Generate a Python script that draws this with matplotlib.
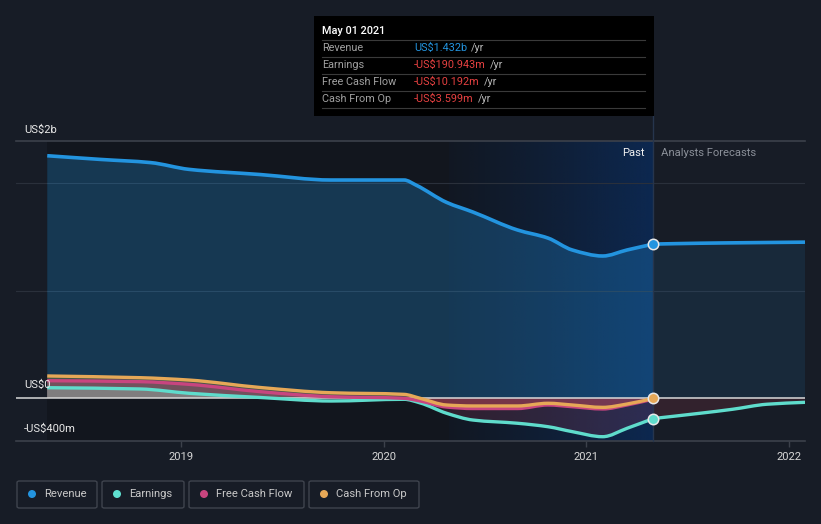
import numpy as np
import matplotlib
matplotlib.use("Agg")
import matplotlib.pyplot as plt
from matplotlib.patches import Rectangle, FancyBboxPatch, Ellipse, PathPatch
from matplotlib.path import Path
from matplotlib.lines import Line2D

plt.rcParams['font.family'] = ['Roboto', 'DejaVu Sans']

# ---- data ----
rev_t = [2018.34, 2018.60, 2018.85, 2019.04, 2019.39, 2019.74, 2020.10, 2020.16,
         2020.31, 2020.44, 2020.66, 2020.81, 2020.93, 2021.08, 2021.20, 2021.33]
revenue = [2.254, 2.22, 2.19, 2.127, 2.079, 2.028, 2.028, 1.98,
           1.82, 1.73, 1.563, 1.488, 1.377, 1.321, 1.377, 1.432]  # US$ b
rev_fc_t = [2021.33, 2021.56, 2021.80, 2022.08]
revenue_fc = [1.432, 1.44, 1.445, 1.45]

low_t = [2018.34, 2018.80, 2019.04, 2019.39, 2019.74, 2020.10, 2020.18, 2020.31,
         2020.44, 2020.66, 2020.81, 2020.93, 2021.08, 2021.20, 2021.33]
cash_from_op = [205, 189, 167, 98, 49, 34, -3, -65, -74, -74, -49, -65, -87, -56, -3.6]  # US$ m
free_cash_flow = [161, 152, 127, 59, 12, -3, -28, -84, -98, -98, -65, -81, -102, -65, -10.2]
earnings = [96, 84, 44, 5, -28, -12, -46, -142, -205, -235, -267, -313, -360, -282, -190.9]
earn_fc_t = [2021.33, 2021.56, 2021.72, 2021.89, 2022.08]
earnings_fc = [-190.9, -142, -105, -58, -40]

x_ticks = [2019, 2020, 2021, 2022]
tooltip_rows = [("Revenue", "US$1.432b", "#2394df"),
                ("Earnings", "-US$190.943m", "#e64141"),
                ("Free Cash Flow", "-US$10.192m", "#e64141"),
                ("Cash From Op", "-US$3.599m", "#e64141")]
legend_items = [("Revenue", "#2394df"), ("Earnings", "#5fe0d0"),
                ("Free Cash Flow", "#c8457f"), ("Cash From Op", "#e6a857")]

REV_C, EARN_C, FCF_C, CFO_C = "#2394df", "#5fdccc", "#c8457f", "#e6a857"
BG = "#171c26"
W, H = 821, 524
FS = 8.1


def px(x, y):
    return x / W, 1 - y / H


def curve_path(t, v):
    # monotone cubic hermite through the points, drawn as bezier segments
    t = np.asarray(t, float)
    v = np.asarray(v, float)
    h = np.diff(t)
    d = np.diff(v) / h
    m = np.zeros_like(v)
    m[0], m[-1] = d[0], d[-1]
    for i in range(1, len(v) - 1):
        if d[i - 1] * d[i] > 0:
            w1, w2 = 2 * h[i] + h[i - 1], h[i] + 2 * h[i - 1]
            m[i] = (w1 + w2) / (w1 / d[i - 1] + w2 / d[i])
    verts = [(t[0], v[0])]
    codes = [Path.MOVETO]
    for i in range(len(h)):
        verts += [(t[i] + h[i] / 3, v[i] + m[i] * h[i] / 3),
                  (t[i + 1] - h[i] / 3, v[i + 1] - m[i + 1] * h[i] / 3),
                  (t[i + 1], v[i + 1])]
        codes += [Path.CURVE4] * 3
    return verts, codes


def draw_line(ax, t, v, color, lw, z):
    verts, codes = curve_path(t, v)
    ax.add_patch(PathPatch(Path(verts, codes), facecolor="none", edgecolor=color,
                           lw=lw, zorder=z, capstyle="butt"))


def draw_fill(ax, t, v, color, alpha, z, clip=None):
    verts, codes = curve_path(t, v)
    verts = verts + [(t[-1], 0), (t[0], 0), (t[0], v[0])]
    codes = codes + [Path.LINETO, Path.LINETO, Path.CLOSEPOLY]
    p = PathPatch(Path(verts, codes), facecolor=color, edgecolor="none", alpha=alpha, zorder=z)
    ax.add_patch(p)
    if clip is not None:
        r = Rectangle((x0, clip[0]), x1 - x0, clip[1] - clip[0], transform=ax.transData)
        p.set_clip_path(r)


fig = plt.figure(figsize=(W / 100, H / 100), dpi=100, facecolor=BG)
ax = fig.add_axes([16 / W, 1 - 441 / H, (805 - 16) / W, 300 / H])
ax.set_facecolor(BG)
x0, x1 = 2018.186, 2022.078
y0, y1 = -0.4, 2.391
ax.set_xlim(x0, x1)
ax.set_ylim(y0, y1)

t_now = 2021.33
band_start = 2020.32

# darker past region + highlighted last year
ax.axvspan(rev_t[0], t_now, color="#10141b", alpha=0.7, lw=0, zorder=0)
grad = np.zeros((2, 256, 4))
grad[..., :3] = matplotlib.colors.to_rgb("#0c2b58")
grad[..., 3] = np.linspace(0.15, 0.9, 256) ** 1.3
ax.imshow(grad, extent=[band_start, t_now, y0, y1], aspect="auto", zorder=0.5,
          interpolation="bilinear")

# gridlines
for yv in [1.0, 2.0]:
    ax.axhline(yv, color="#2a303b", lw=0.8, zorder=1)
ax.axhline(y1, color="#3c414b", lw=1.2, zorder=1, clip_on=False)

# revenue
draw_fill(ax, rev_t, revenue, REV_C, 0.27, 2)
draw_fill(ax, rev_fc_t, revenue_fc, REV_C, 0.11, 2)
draw_line(ax, rev_t, revenue, REV_C, 2.6, 6)
draw_line(ax, rev_fc_t, revenue_fc, REV_C, 2.6, 6)

# lower series (in billions)
cfo = np.array(cash_from_op) / 1000
fcf = np.array(free_cash_flow) / 1000
ern = np.array(earnings) / 1000
ern_fc = np.array(earnings_fc) / 1000

pos, neg = (0, 1), (-1, 0)
draw_fill(ax, low_t, cfo, "#6b6a45", 0.6, 3, clip=pos)
draw_fill(ax, low_t, fcf, "#8a5068", 0.65, 3, clip=pos)
draw_fill(ax, low_t, ern, "#808080", 0.95, 3, clip=pos)
draw_fill(ax, low_t, cfo, "#d04a5a", 0.45, 3, clip=neg)
draw_fill(ax, low_t, ern, "#c04a6a", 0.18, 3, clip=neg)
draw_fill(ax, earn_fc_t, ern_fc, "#d04a5a", 0.15, 3)

draw_line(ax, low_t, ern, EARN_C, 2.4, 7)
draw_line(ax, earn_fc_t, ern_fc, EARN_C, 2.4, 7)
draw_line(ax, low_t, fcf, FCF_C, 2.4, 7)
draw_line(ax, low_t, cfo, CFO_C, 2.4, 8)

ax.axhline(0, color="#d8d8d8", lw=1.1, zorder=5)

# markers at the current date
for v, col in [(revenue[-1], REV_C), (ern[-1], EARN_C), (cfo[-1], CFO_C)]:
    ax.plot([t_now], [v], "o", ms=7.5, color=col, mec="#e8e8e8", mew=1.1, zorder=10)

# past/forecast divider
ax.axvline(t_now, ymin=0, ymax=(441 - 116) / 300, color="#26354d", lw=1, zorder=4, clip_on=False)

# axes styling
for s in ax.spines.values():
    s.set_visible(False)
ax.axhline(y0, color="#3c414b", lw=1.2, zorder=1, clip_on=False)
ax.set_yticks([])
ax.set_xticks(x_ticks)
ax.set_xticklabels([str(v) for v in x_ticks])
ax.tick_params(axis="x", colors="#3c414b", length=4, width=1, labelcolor="#d6d6d6",
               labelsize=FS, pad=4)

# y labels
fig.text(*px(24, 130), "US$2b", color="#e8e8e8", fontsize=FS, va="center")
fig.text(*px(24, 385), "US$0", color="#e8e8e8", fontsize=FS, va="center")
fig.text(*px(24, 429), "-US$400m", color="#e8e8e8", fontsize=FS, va="center")

fig.text(*px(645, 153), "Past", color="#f0f0f0", fontsize=FS, va="center", ha="right")
fig.text(*px(661, 153), "Analysts Forecasts", color="#8b9099", fontsize=FS, va="center")

# tooltip
fig.patches.append(Rectangle(px(314, 116), 340 / W, 100 / H, transform=fig.transFigure,
                             facecolor="#000000", edgecolor="none", zorder=20))
fig.text(*px(322, 31), "May 01 2021", color="#ffffff", fontsize=7.8, va="center",
         fontweight="medium", zorder=21)
for yy in [40, 57, 74, 91, 108]:
    fig.lines.append(Line2D([322 / W, 645 / W], [1 - yy / H] * 2, transform=fig.transFigure,
                            color="#3a3a3a", lw=0.8, zorder=21))
for i, (lab, val, col) in enumerate(tooltip_rows):
    yy = 48 + 17 * i
    fig.text(*px(322, yy), lab, color="#a0a0a0", fontsize=7.8, va="center", zorder=21)
    t = fig.text(*px(414, yy), val, color=col, fontsize=7.8, va="center", zorder=21)
    fig.texts.append(matplotlib.text.Annotation("/yr", xy=(1, 0.5), xycoords=t, xytext=(3, 0),
                                                textcoords="offset points", va="center",
                                                color="#b8b8b8", fontsize=7.8, zorder=21))
    fig.texts[-1].set_figure(fig)

# legend boxes
boxes = [(17, 97), (102, 184), (189, 304), (309, 419)]
for (lab, col), (bx0, bx1) in zip(legend_items, boxes):
    fig.patches.append(FancyBboxPatch(px(bx0, 508), (bx1 - bx0) / W, 27 / H,
                                      boxstyle="round,pad=0,rounding_size=0.003",
                                      transform=fig.transFigure, facecolor="none",
                                      edgecolor="#3f444e", lw=1, zorder=20))
    fig.patches.append(Ellipse(px(bx0 + 15, 494), 8 / W, 8 / H, transform=fig.transFigure,
                               facecolor=col, edgecolor="none", zorder=21))
    fig.text(*px(bx0 + 27, 494), lab, color="#c8c8c8", fontsize=FS, va="center", zorder=21)

fig.savefig("out.png", dpi=100, facecolor=BG)
